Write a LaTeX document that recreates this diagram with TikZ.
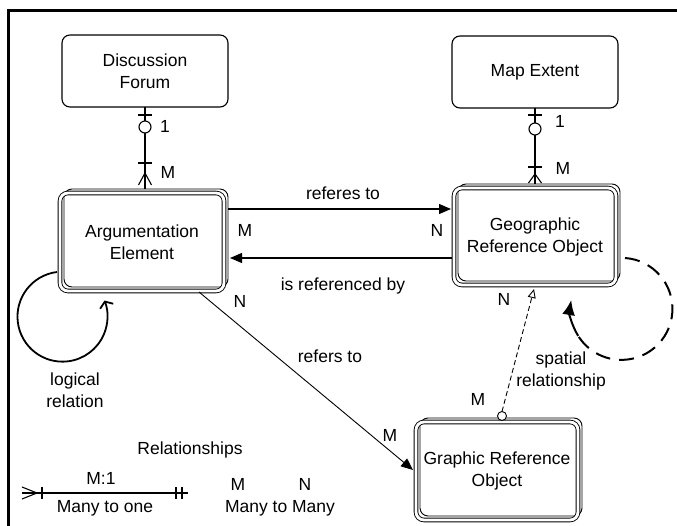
\documentclass[tikz,border=0pt]{standalone}
\usepackage{fontspec}
\setmainfont{Liberation Sans}
\usetikzlibrary{arrows.meta,calc,backgrounds}

\begin{document}
\begin{tikzpicture}[x=1pt,y=-1pt,
  every node/.style={font=\fontsize{17.5}{22}\selectfont, text=black},
  entity/.style={draw, rounded corners=8pt, line width=1.1pt, align=center,
                 inner sep=0pt, outer sep=0pt},
  weak/.style={entity, double, double distance=2.8pt, line width=0.9pt},
  backbox/.style={draw, rounded corners=8pt, line width=0.9pt},
  conn/.style={line width=1.1pt},
  thinconn/.style={line width=0.9pt},
  headarrow/.style={-{Triangle[length=12pt,width=10pt]}},
  lbl/.style={inner sep=0pt},
]
\useasboundingbox (0,0) rectangle (677,526);

% frame
\draw[line width=2.5pt] (8.5,526) -- (8.5,10.5) -- (677,10.5);

% entities
\node[entity, minimum width=166pt, minimum height=72pt] (DF) at (145,71) {Discussion\\Forum};
\node[entity, minimum width=166pt, minimum height=72pt] (ME) at (535,72) {Map Extent};
\node[weak, minimum width=164pt, minimum height=98pt] (AE) at (142,242) {Argumentation\\Element};
\node[weak, minimum width=162pt, minimum height=97pt] (GRO) at (535,236.5) {Geographic\\Reference Object};
\node[weak, minimum width=162pt, minimum height=98pt] (GrRO) at (497,471) {Graphic Reference\\Object};

% stacked copies behind the weak entities
\begin{scope}[on background layer]
  \foreach \n in {AE,GRO,GrRO}
    \draw[backbox] ([xshift=4pt,yshift=4pt]\n.south west) rectangle ([xshift=4pt,yshift=4pt]\n.north east);
\end{scope}

% Discussion Forum 1 -- M Argumentation Element
\coordinate (dfE) at ($(DF.south |- AE.north)+(0,-4)$);
\draw[conn] (DF.south) -- (dfE);
\draw[conn] ($(DF.south)+(-7,8)$) -- ++(14,0);
\draw[conn, fill=white] ($(DF.south)+(0,20)$) circle[radius=6];
\draw[conn] ($(dfE)+(-7,-26)$) -- ++(14,0);
\draw[conn] ($(dfE)+(-6.5,-4)$) -- ($(dfE)+(0,-16)$) -- ($(dfE)+(6.5,-4)$);
\node[lbl] at (165,126) {1};
\node[lbl] at (168,172) {M};

% Map Extent 1 -- M Geographic Reference Object
\coordinate (meE) at ($(ME.south |- GRO.north)+(0,-4)$);
\draw[conn] (ME.south) -- (meE);
\draw[conn] ($(ME.south)+(-7,7)$) -- ++(14,0);
\draw[conn, fill=white] ($(ME.south)+(0,21)$) circle[radius=6];
\draw[conn] ($(meE)+(-7,-17)$) -- ++(14,0);
\draw[conn] ($(meE)+(-6.5,-1)$) -- ($(meE)+(0,-10)$) -- ($(meE)+(6.5,-1)$);
\node[lbl] at (560,121) {1};
\node[lbl] at (563,168) {M};

% referes to / is referenced by
\draw[conn, headarrow] ($(AE.north east)+(4,16)$) -- ($(GRO.north west |- AE.north east)+(-3,16)$);
\draw[conn, headarrow] ($(GRO.north west)+(-2,70)$) -- ($(AE.north east)+(6,65)$);
\node[lbl] at (343,193) {referes to};
\node[lbl] at (343,286) {is referenced by};
\node[lbl] at (245,230) {M};
\node[lbl] at (437,230) {N};

% Argumentation Element refers to Graphic Reference Object
\draw[thinconn, headarrow] ($(AE.south east)+(-25,1)$) -- ($(GrRO.west)+(-3,-1)$);
\node[lbl] at (240,301) {N};
\node[lbl] at (330,356) {refers to};
\node[lbl] at (390,435) {M};

% spatial relationship
\coordinate (spB) at ($(GrRO.north)+(5,-6)$);
\draw[thinconn, dash pattern=on 5pt off 3pt, -{Triangle[open,length=9pt,width=8pt]}]
  ($(spB)+(0,-4.5)$) -- ($(GRO.south)+(-1,4)$);
\draw[thinconn, fill=white] (spB) circle[radius=4.5];
\node[lbl] at (504,299) {N};
\node[lbl] at (478,399) {M};
\node[lbl, align=center] at (561,371) {spatial\\relationship};

% logical relation loop
\draw[line width=1.8pt, -{Straight Barb[length=5pt,width=14pt]}]
  ($(AE.south west)+(-3,-19)$) arc[start angle=-97, end angle=-381, radius=45];
\node[lbl, align=center] at (75,390) {logical\\relation};

% spatial self loop: dashed sweep, then a solid end carrying the tip
\draw[line width=2pt, dash pattern=on 15pt off 9pt]
  ($(GRO.north east)+(9,70)$) arc[start angle=-86, end angle=148, radius=51]
  coordinate (loopEnd);
\draw[line width=2pt, -{Latex[length=15pt,width=13pt]}]
  (loopEnd) arc[start angle=148, end angle=190, radius=51];

% legend
\node[lbl] at (190,450) {Relationships};
\coordinate (lgA) at (22,493);
\coordinate (lgB) at (188,493);
\draw[conn] (lgA) -- (lgB);
\draw[conn] ($(lgA)+(0,-6)$) -- ($(lgA)+(15,0)$) -- ($(lgA)+(0,6)$);
\draw[conn] ($(lgA)+(20,-6)$) -- ++(0,12);
\draw[conn] ($(lgB)+(-12,-6)$) -- ++(0,12);
\draw[conn] ($(lgB)+(-6,-6)$) -- ++(0,12);
\node[lbl] at (101,478) {M:1};
\node[lbl] at (105,508) {Many to one};
\node[lbl] at (238,484) {M};
\node[lbl] at (305,484) {N};
\node[lbl] at (280,508) {Many to Many};
\end{tikzpicture}
\end{document}
